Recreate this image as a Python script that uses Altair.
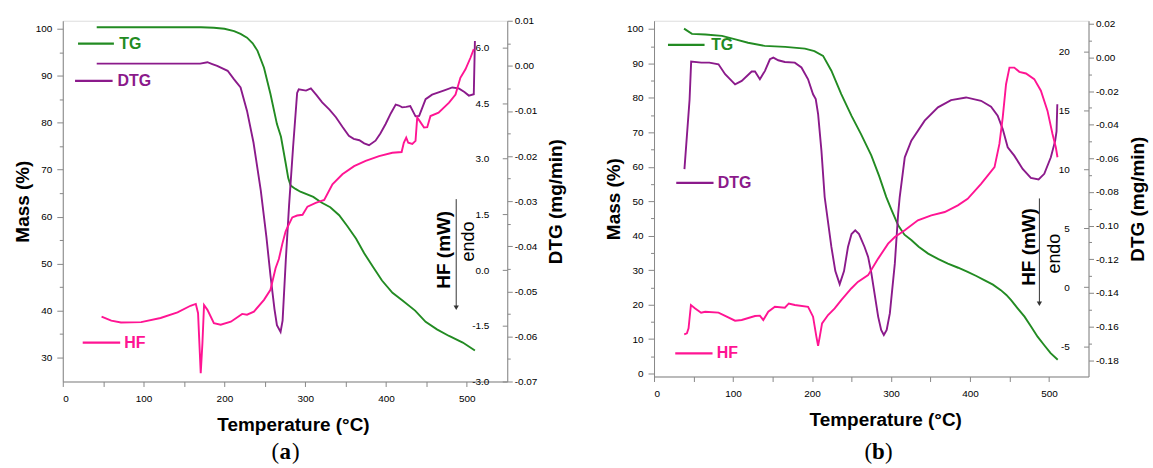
import altair as alt
import pandas as pd

FONT = "Liberation Sans"
TG_C = "#228b22"
DTG_C = "#8b1a8b"
HF_C = "#ff1493"

# ---------------- panel (a) data ----------------
a_tg_T = [42, 100, 171, 187, 200, 212, 220, 228, 235, 241, 249, 257, 265, 270, 276, 279, 282, 288, 294, 310,
          320, 331, 342, 352, 363, 373, 384, 395, 408, 420, 436, 449, 463, 478, 495, 510]
a_tg_M = [100.3, 100.3, 100.3, 100.2, 100.0, 99.5, 98.9, 98.1, 96.9, 95.3, 91.7, 86.1, 79.7, 77.0, 71.2, 68.2,
          66.6, 65.9, 65.3, 64.2, 63.0, 62.0, 60.3, 58.0, 55.3, 52.2, 49.3, 46.4, 43.8, 42.2, 40.0, 37.6, 36.0,
          34.6, 33.2, 31.5]

a_dtg_T = [42, 100, 170, 179, 185, 191, 204, 212, 220, 228, 236, 245, 252, 257, 262, 265, 269.5, 272, 276, 280,
           285, 290, 292, 301, 307, 314, 321, 330, 338, 346, 354, 360, 367, 373, 379, 387, 393, 399.5, 406, 412,
           416, 420, 425, 430, 436.5, 441, 449, 457, 465, 473, 482, 490, 497, 502.5, 508.6, 510]
a_dtg_D = [0.0005, 0.0005, 0.0005, 0.0008, 0.0004, 0.0000, -0.0011, -0.0030, -0.0048, -0.0100,
           -0.0170, -0.0276, -0.0380, -0.0465, -0.0540, -0.0575, -0.0590, -0.0565, -0.0430, -0.0310,
           -0.0180, -0.0060, -0.0052, -0.0055, -0.0050, -0.0065, -0.0081, -0.0097, -0.0114, -0.0135,
           -0.0155, -0.0162, -0.0165, -0.0172, -0.0176, -0.0166, -0.0150, -0.0129, -0.0105, -0.0086,
           -0.0088, -0.0092, -0.0091, -0.0089, -0.0112, -0.0111, -0.0074, -0.0064, -0.0059, -0.0054,
           -0.0048, -0.0050, -0.0058, -0.0066, -0.0063, 0.0055]

a_hf_T = [48, 60, 72, 97, 121, 142, 158, 164.6, 167.4, 170.7, 172.8, 174.8, 179, 187, 195.4, 208, 222, 228,
          236.5, 249, 257, 263.3, 267.4, 271.6, 275.7, 278, 284, 290, 296.7, 302.8, 313, 323.5, 333.7, 346,
          360.5, 374.8, 391.4, 407.8, 419.3, 422, 425, 427.5, 432.5, 436.5, 438.6, 441.5, 447, 451, 455, 465,
          478, 486, 492, 498.3, 504.5, 508.6]
a_hf_H = [-1.25, -1.36, -1.41, -1.40, -1.29, -1.14, -0.96, -0.91, -1.16, -2.78, -1.97, -0.94, -1.07, -1.43,
          -1.47, -1.39, -1.18, -1.20, -1.12, -0.80, -0.53, 0.05, 0.30, 0.70, 1.04, 1.15, 1.42, 1.47, 1.49, 1.71,
          1.81, 1.89, 2.31, 2.58, 2.80, 2.94, 3.07, 3.16, 3.18, 3.43, 3.57, 3.43, 3.40, 3.48, 4.11, 4.02, 3.84,
          3.85, 4.15, 4.24, 4.51, 4.73, 5.18, 5.41, 5.72, 5.95]

# ---------------- panel (b) data ----------------
b_tg_T = [38, 48, 65, 86, 103, 119, 140, 166, 191, 203, 214, 224.5, 237, 250, 262, 275, 285, 294, 301, 309,
          317, 326, 335, 347, 360, 372, 385, 397, 408, 418, 429, 439, 446, 452, 460, 469, 477, 485.5, 494, 502,
          511]
b_tg_M = [100.1, 98.6, 98.4, 98.0, 97.0, 96.0, 95.1, 94.8, 94.3, 93.6, 92.2, 87.9, 81.1, 74.8, 69.5, 63.3,
          57.3, 51.2, 47.3, 43.0, 40.3, 38.7, 36.8, 34.8, 33.2, 31.9, 30.7, 29.5, 28.3, 27.1, 25.8, 24.2, 22.8,
          21.3, 19.0, 16.5, 13.7, 10.7, 8.2, 5.9, 4.0]

b_dtg_T = [38.5, 45, 47, 60, 70, 81.6, 90, 102.6, 111, 123.6, 127.8, 134, 140.4, 146.7, 151, 157.3, 165.6,
           178.2, 186.6, 195, 201.3, 204.7, 207.7, 211.9, 216, 224.5, 229.5, 235, 240.5, 245.5, 250, 254.7,
           259.5, 266.5, 271, 275, 283.7, 287.5, 290.9, 294.5, 298.5, 304.8, 309, 311, 317.4, 325.7, 342.6,
           359.4, 376, 395, 414, 426.6, 435, 441.4, 447.7, 456, 466.6, 477, 486.8, 494, 502.3, 507.8, 509.5,
           510.5]
b_dtg_D = [-0.0664, -0.0250, -0.0025, -0.0031, -0.0031, -0.0041, -0.0100, -0.0160, -0.0140, -0.0084,
           -0.0084, -0.0130, -0.0080, -0.0011, -0.0001, -0.0017, -0.0027, -0.0031, -0.0060, -0.0130,
           -0.0219, -0.0248, -0.0337, -0.0554, -0.0830, -0.1127, -0.1270, -0.1348, -0.1270, -0.1127,
           -0.1050, -0.1028, -0.1050, -0.1127, -0.1186, -0.1280, -0.1541, -0.1620, -0.1650, -0.1620,
           -0.1522, -0.1226, -0.0930, -0.0830, -0.0594, -0.0495, -0.0376, -0.0297, -0.0254, -0.0238,
           -0.0258, -0.0293, -0.0347, -0.0426, -0.0534, -0.0584, -0.0663, -0.0716, -0.0726, -0.0692,
           -0.0594, -0.0495, -0.0440, -0.0278]

b_hf_T = [38.2, 41.6, 43.7, 46.7, 52.1, 59.6, 64.7, 81.6, 102.6, 111, 127.8, 134, 138.3, 144.6, 153, 165.6,
          170.6, 178.2, 195, 201.3, 205.5, 207.7, 209.8, 212.7, 220.3, 228.7, 237, 249.7, 258, 271, 283.7,
          296.3, 304.8, 317.4, 334, 351, 368, 384.6, 397, 414, 431, 437.2, 441.4, 445.6, 449.9, 456, 462.4,
          470.8, 481.3, 489.7, 498, 504.4, 508.6, 510.7]
b_hf_H = [-3.99, -3.90, -3.48, -1.50, -1.79, -2.15, -2.07, -2.15, -2.83, -2.77, -2.43, -2.40, -2.77, -2.07,
          -1.65, -1.73, -1.37, -1.50, -1.65, -2.49, -4.18, -4.97, -4.18, -3.06, -2.35, -1.79, -1.08, -0.10,
          0.46, 1.03, 2.43, 3.70, 4.26, 4.83, 5.68, 6.10, 6.38, 6.94, 7.50, 8.77, 10.18, 12.15, 14.40, 17.21,
          18.62, 18.62, 18.26, 18.12, 17.64, 16.66, 14.97, 12.99, 11.87, 11.02]

# ---------------- tick values ----------------
x_ticks = [0, 50, 100, 150, 200, 250, 300, 350, 400, 450, 500]
a_mass_ticks = [30, 35, 40, 45, 50, 55, 60, 65, 70, 75, 80, 85, 90, 95, 100]
a_dtg_ticks = [-0.07, -0.065, -0.06, -0.055, -0.05, -0.045, -0.04, -0.035, -0.03, -0.025, -0.02, -0.015,
               -0.01, -0.005, 0.0, 0.005, 0.01]
a_hf_ticks = [-3.0, -1.5, 0.0, 1.5, 3.0, 4.5, 6.0]
b_mass_ticks = [0, 5, 10, 15, 20, 25, 30, 35, 40, 45, 50, 55, 60, 65, 70, 75, 80, 85, 90, 95, 100]
b_dtg_ticks = [-0.18, -0.17, -0.16, -0.15, -0.14, -0.13, -0.12, -0.11, -0.10, -0.09, -0.08, -0.07, -0.06,
               -0.05, -0.04, -0.03, -0.02, -0.01, 0.0, 0.01, 0.02]
b_hf_ticks = [-5, 0, 5, 10, 15, 20]

MINUS = "\u2212"
one = pd.DataFrame({"k": [0]})


def txt(text, x, y, size, color="black", weight="normal", angle=0, align="center", font=FONT):
    return alt.Chart(one).mark_text(text=text, align=align, baseline="middle", font=font, fontSize=size,
                                    fontWeight=weight, color=color, angle=angle).encode(
        x=alt.value(x), y=alt.value(y))


def hrule(x1, x2, y, color):
    return alt.Chart(one).mark_rule(color=color, strokeWidth=2.2).encode(
        x=alt.value(x1), x2=alt.value(x2), y=alt.value(y))


def panel(tg, dtg, hf, g):
    W, H = g["W"], g["H"]
    xs = alt.Scale(domain=[0, 550], nice=False, zero=False)
    xax = alt.Axis(values=x_ticks, labelExpr="datum.value % 100 == 0 ? datum.label : ''",
                   title="Temperature (\u00b0C)", titleFont=FONT, titleFontSize=19, titleFontWeight="bold",
                   titlePadding=12, titleX=g["titleX"], tickSize=5, labelPadding=7, grid=False)
    X = alt.X("T:Q", scale=xs, axis=xax)

    mass_ax = alt.Axis(orient="left", values=g["mass_ticks"],
                       labelExpr="datum.value % 10 == 0 ? datum.label : ''",
                       tickSize={"condition": {"test": "datum.value % 10 == 0", "value": 6}, "value": 3.5},
                       labelPadding=5, title="Mass (%)", titleFont=FONT, titleFontSize=19,
                       titleFontWeight="bold", titlePadding=3, grid=False)
    dtg_ax = alt.Axis(orient="right", values=g["dtg_ticks"], format=".2f",
                      labelExpr="abs(round(datum.value*%d)) %% %d == 0 ? replace(datum.label, '%s', '-') : ''"
                                % (g["dtg_mul"], g["dtg_mod"], MINUS),
                      tickSize={"condition": {"test": "abs(round(datum.value*%d)) %% %d == 0" % (g["dtg_mul"], g["dtg_mod"]),
                                              "value": 5}, "value": 3},
                      labelPadding=2, title="DTG (mg/min)", titleFont=FONT, titleFontSize=19,
                      titleFontWeight="bold", titleAngle=270, titleBaseline="top", titlePadding=10, grid=False)
    hf_ax = alt.Axis(orient="left", offset=-W, values=g["hf_ticks"], format=g["hf_fmt"],
                     labelExpr="replace(datum.label, '%s', '-')" % MINUS,
                     domain=False, tickSize=5, labelPadding=g["hf_pad"], title=None, grid=False)

    df_tg = pd.DataFrame({"T": tg[0], "M": tg[1]})
    df_dtg = pd.DataFrame({"T": dtg[0], "D": dtg[1]})
    df_hf = pd.DataFrame({"T": hf[0], "H": hf[1]})

    l_tg = alt.Chart(df_tg).mark_line(color=TG_C, strokeWidth=1.9).encode(
        x=X, y=alt.Y("M:Q", scale=alt.Scale(domain=g["mass_dom"], nice=False, zero=False), axis=mass_ax))
    l_dtg = alt.Chart(df_dtg).mark_line(color=DTG_C, strokeWidth=1.9).encode(
        x=X, y=alt.Y("D:Q", scale=alt.Scale(domain=g["dtg_dom"], nice=False, zero=False), axis=dtg_ax))
    l_hf = alt.Chart(df_hf).mark_line(color=HF_C, strokeWidth=1.9).encode(
        x=X, y=alt.Y("H:Q", scale=alt.Scale(domain=g["hf_dom"], nice=False, zero=False), axis=hf_ax))

    L = g["leg"]
    ann = [
        hrule(L["tg"][0], L["tg"][1], L["tg"][2], TG_C),
        txt("TG", L["tg"][3], L["tg"][2], 16, TG_C, "bold", align="left"),
        hrule(L["dtg"][0], L["dtg"][1], L["dtg"][2], DTG_C),
        txt("DTG", L["dtg"][3], L["dtg"][2], 16, DTG_C, "bold", align="left"),
        hrule(L["hf"][0], L["hf"][1], L["hf"][2], HF_C),
        txt("HF", L["hf"][3], L["hf"][2], 16, HF_C, "bold", align="left"),
        txt("HF (mW)", g["hfT"][0], g["hfT"][1], 19, "black", "bold", angle=270),
        txt("endo", g["endo"][0], g["endo"][1], 18, "black", "normal", angle=270),
        alt.Chart(one).mark_rule(color="#333333", strokeWidth=1).encode(
            x=alt.value(g["arrow"][0]), y=alt.value(g["arrow"][1]), y2=alt.value(g["arrow"][2] - 4)),
        alt.Chart(one).mark_point(shape="triangle-down", filled=True, color="#333333", size=28, opacity=1).encode(
            x=alt.value(g["arrow"][0]), y=alt.value(g["arrow"][2] - 3)),
        txt("(", g["lab"][0] - 10, g["lab"][1], 23, "black", "normal", font="Liberation Serif"),
        txt(g["letter"], g["lab"][0], g["lab"][1], 23, "black", "bold", font="Liberation Serif"),
        txt(")", g["lab"][0] + 10.5, g["lab"][1], 23, "black", "normal", font="Liberation Serif"),
    ]
    return alt.layer(l_tg, l_dtg, l_hf, *ann).resolve_scale(y="independent").properties(width=W, height=H)


geo_a = dict(W=446, H=362, titleX=231, mass_dom=[24.91, 101.70], dtg_dom=[-0.07, 0.01], hf_dom=[-3.0, 6.717],
             mass_ticks=a_mass_ticks, dtg_ticks=a_dtg_ticks, dtg_mul=1000, dtg_mod=10,
             hf_ticks=a_hf_ticks, hf_fmt=".1f", hf_pad=13.5,
             leg=dict(tg=[15.3, 51.3, 23, 56.6], dtg=[12.3, 50, 60.3, 55], hf=[20, 57.6, 323, 61.6]),
             hfT=[382.8, 229.8], endo=[408, 221.5], arrow=[394.8, 179, 291], lab=[223.3, 433], letter="a")
geo_b = dict(W=436, H=357, titleX=232, mass_dom=[-0.87, 102.4], dtg_dom=[-0.1897, 0.0218], hf_dom=[-7.56, 22.59],
             mass_ticks=b_mass_ticks, dtg_ticks=b_dtg_ticks, dtg_mul=100, dtg_mod=2,
             hf_ticks=b_hf_ticks, hf_fmt="d", hf_pad=14.3,
             leg=dict(tg=[14, 50.7, 24.3, 57.3], dtg=[22.3, 59.7, 162.7, 64], hf=[21.3, 58.7, 333.7, 63]),
             hfT=[375.8, 227], endo=[402.5, 233.7], arrow=[386.7, 178.3, 287], lab=[225, 433], letter="b")

pa = panel((a_tg_T, a_tg_M), (a_dtg_T, a_dtg_D), (a_hf_T, a_hf_H), geo_a)
pb = panel((b_tg_T, b_tg_M), (b_dtg_T, b_dtg_D), (b_hf_T, b_hf_H), geo_b)

chart = alt.hconcat(pa, pb, spacing=147.3, bounds="flush").properties(
    padding={"left": 12, "top": 14, "right": 5, "bottom": 2}
).configure_view(stroke=None).configure_axis(
    labelFont=FONT, labelFontSize=13, labelColor="#222222", domainColor="black", tickColor="black",
    domainWidth=1.6, tickWidth=1.3, titleColor="black"
).configure(background="white")

chart.save("out.html", embed_options={"renderer": "svg", "actions": False})
